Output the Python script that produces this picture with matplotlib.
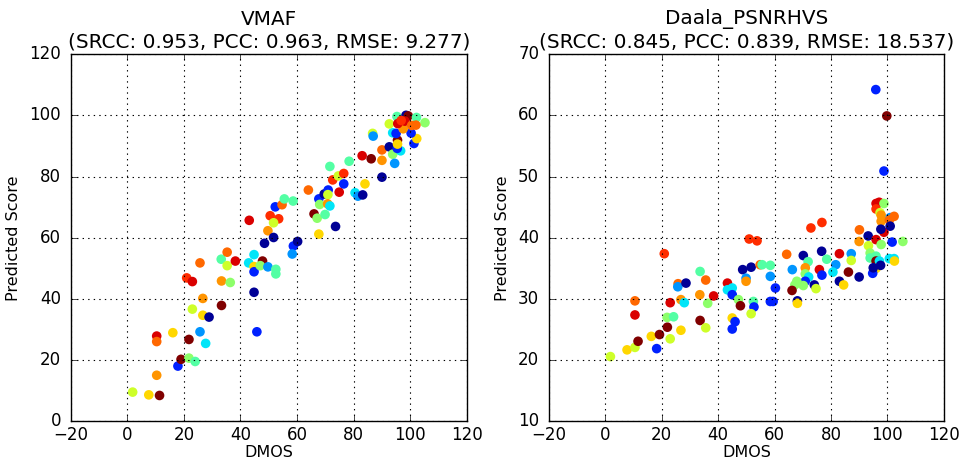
import matplotlib
matplotlib.use('Agg')
import matplotlib.pyplot as plt
import numpy as np

# colour groups (one per source content), mapped onto jet below
GROUP_C = {'db': 0.02, 'b': 0.16, 'lb': 0.27, 'cy': 0.35, 'ag': 0.45, 'lg': 0.52,
           'yg': 0.6, 'y': 0.68, 'o': 0.75, 'do': 0.8, 'ro': 0.86, 'r': 0.92, 'dr': 1.0}

vmaf_dmos = [1.9, 7.6, 11.4, 10.4, 10.4, 10.4, 16.1, 17.9, 19.0, 21.8, 24.0, 21.8, 25.7, 27.7,
             23.0, 26.7, 28.9, 26.7, 33.3, 21.0, 23.0, 25.7, 33.3, 36.4, 33.2, 35.3, 35.3, 38.2,
             44.8, 42.9, 44.8, 44.8, 47.8, 47.0, 49.7, 52.5, 52.5, 44.8, 45.8, 49.7, 51.7, 48.5,
             58.7, 58.3, 60.2, 67.7, 43.1, 50.5, 53.5, 51.7, 52.3, 54.7, 55.5, 58.6, 64.0, 67.7,
             69.6, 71.0, 70.9, 68.0, 70.8, 71.6, 66.0, 67.1, 69.9, 73.6, 72.6, 74.9, 71.6, 78.4,
             74.6, 76.5, 76.5, 80.5, 81.5, 83.2, 84.0, 83.0, 86.2, 90.0, 90.0, 90.0, 86.7, 86.9,
             92.6, 93.8, 94.5, 96.6, 95.4, 95.5, 95.5, 101.3, 102.3, 100.3, 93.8, 95.0, 92.6, 97.5,
             95.3, 98.5, 99.3, 102.2, 105.2, 95.6, 98.1, 96.8, 100.5, 102.0]
vmaf_pred = [9.6, 8.7, 8.5, 15.1, 27.9, 26.1, 29.0, 18.1, 20.3, 20.7, 19.6, 26.8, 29.3, 25.5,
             36.7, 34.7, 34.1, 40.2, 37.9, 46.9, 45.7, 51.8, 45.9, 45.4, 53.0, 55.3, 50.9, 52.4,
             54.5, 51.8, 50.6, 48.9, 52.4, 50.9, 50.5, 49.7, 48.2, 42.2, 29.3, 62.3, 60.1, 58.2,
             57.3, 54.7, 58.8, 61.2, 65.7, 67.2, 66.2, 64.9, 70.1, 70.8, 72.7, 72.0, 75.6, 72.7,
             74.3, 75.6, 74.1, 70.9, 71.1, 70.4, 67.8, 66.4, 67.6, 63.7, 78.9, 74.9, 83.3, 85.0,
             80.2, 81.0, 77.6, 74.7, 73.6, 74.0, 77.6, 86.8, 85.8, 88.7, 85.3, 79.8, 94.1, 93.2,
             89.7, 87.3, 84.3, 88.4, 89.2, 91.9, 90.6, 90.8, 92.4, 94.2, 94.3, 94.1, 97.2, 95.6,
             99.6, 100.0, 99.8, 99.3, 97.6, 97.3, 98.1, 98.3, 96.7, 96.8]
vmaf_group = ['yg', 'y', 'dr', 'o', 'r', 'do', 'y', 'b', 'dr', 'lg', 'ag', 'dr', 'lb', 'cy',
              'yg', 'y', 'db', 'o', 'dr', 'ro', 'r', 'do', 'o', 'lg', 'ag', 'do', 'yg', 'r',
              'cy', 'cy', 'y', 'b', 'dr', 'lg', 'lb', 'ag', 'ag', 'db', 'b', 'o', 'db', 'db',
              'b', 'lb', 'db', 'y', 'r', 'ro', 'ro', 'yg', 'b', 'do', 'ag', 'ag', 'do', 'b',
              'db', 'b', 'yg', 'lg', 'o', 'cy', 'dr', 'lg', 'ag', 'db', 'ro', 'r', 'ag', 'ag',
              'yg', 'ro', 'b', 'cy', 'lb', 'db', 'y', 'r', 'dr', 'do', 'o', 'db', 'yg', 'lb',
              'db', 'lg', 'lb', 'cy', 'b', 'dr', 'y', 'b', 'y', 'b', 'cy', 'b', 'yg', 'o',
              'ag', 'db', 'dr', 'ag', 'lg', 'r', 'r', 'ro', 'do', 'do']

hvs_dmos = [1.8, 7.7, 10.5, 11.6, 10.5, 10.5, 16.3, 18.2, 19.2, 22.0, 23.0, 21.9, 24.2, 26.8,
            23.0, 20.9, 25.8, 25.7, 28.6, 26.8, 28.0, 33.6, 35.6, 36.3, 33.5, 33.6, 35.6, 38.4,
            43.3, 43.3, 45.0, 45.0, 47.2, 47.9, 45.0, 46.0, 45.0, 48.7, 51.7, 49.9, 49.9, 51.0,
            53.8, 52.5, 52.7, 51.7, 54.9, 55.6, 58.5, 58.5, 60.3, 58.5, 59.5, 64.3, 70.2, 71.9,
            66.3, 70.9, 70.9, 72.1, 70.9, 67.9, 67.2, 70.2, 66.2, 68.1, 68.1, 74.1, 74.7, 76.7,
            76.8, 72.9, 78.5, 75.9, 76.8, 81.7, 80.7, 83.0, 83.0, 87.2, 87.2, 86.2, 84.5, 90.0,
            90.0, 90.1, 93.2, 93.3, 96.0, 98.8, 97.8, 101.7, 105.5, 93.9, 93.9, 96.0, 96.0, 97.2,
            96.0, 94.8, 100.7, 102.4, 102.5, 95.0, 97.6, 95.9, 99.8, 98.8, 96.0, 97.1, 98.8, 96.0,
            97.4, 97.8, 97.8, 101.0, 100.7, 102.4, 97.7, 101.0]
hvs_pred = [20.6, 21.7, 22.1, 23.1, 27.4, 29.7, 23.9, 21.9, 24.2, 25.4, 23.5, 27.0, 27.1, 24.9,
            29.4, 37.4, 32.5, 32.0, 32.6, 29.9, 29.4, 26.5, 25.3, 29.3, 30.7, 34.5, 33.1, 30.5,
            32.6, 31.5, 31.8, 30.7, 29.9, 28.9, 26.9, 26.3, 25.1, 34.8, 35.2, 33.4, 32.9, 39.8,
            39.5, 29.6, 28.7, 27.6, 35.6, 35.6, 35.5, 33.7, 31.8, 29.6, 29.6, 37.3, 37.1, 36.1,
            34.8, 35.1, 34.1, 33.6, 32.9, 32.9, 32.3, 32.2, 31.4, 29.7, 29.3, 32.3, 31.7, 37.8,
            42.5, 41.6, 36.5, 34.8, 33.9, 35.6, 34.4, 32.9, 37.4, 37.4, 36.3, 34.4, 32.3, 33.6,
            39.4, 41.3, 40.3, 38.7, 39.7, 40.9, 38.9, 39.3, 39.4, 37.5, 36.7, 37.0, 36.2, 36.2,
            35.0, 34.2, 36.6, 36.6, 36.2, 35.1, 35.5, 64.2, 59.9, 50.9, 45.6, 45.8, 45.6, 44.7,
            44.1, 43.7, 42.7, 43.3, 42.9, 43.5, 41.4, 41.9]
hvs_group = ['yg', 'y', 'yg', 'dr', 'r', 'do', 'y', 'b', 'dr', 'dr', 'yg', 'lg', 'ag', 'y',
             'r', 'ro', 'do', 'lb', 'db', 'o', 'cy', 'dr', 'yg', 'lg', 'o', 'ag', 'do', 'r',
             'r', 'cy', 'cy', 'b', 'lg', 'dr', 'y', 'b', 'b', 'db', 'db', 'lb', 'o', 'ro',
             'ro', 'ag', 'b', 'yg', 'do', 'ag', 'ag', 'lb', 'b', 'b', 'b', 'do', 'db', 'ag',
             'lb', 'o', 'lg', 'cy', 'b', 'lg', 'lg', 'lg', 'dr', 'db', 'y', 'db', 'yg', 'db',
             'ro', 'ro', 'ag', 'r', 'b', 'lb', 'cy', 'db', 'r', 'lb', 'yg', 'dr', 'y', 'db',
             'o', 'do', 'db', 'yg', 'r', 'r', 'lg', 'b', 'lg', 'lg', 'ag', 'ag', 'dr', 'cy',
             'y', 'b', 'cy', 'cy', 'y', 'db', 'db', 'b', 'dr', 'b', 'r', 'r', 'lg', 'ro',
             'yg', 'o', 'o', 'lb', 'do', 'do', 'db', 'db']

titles = ['VMAF\n(SRCC: 0.953, PCC: 0.963, RMSE: 9.277)',
          'Daala_PSNRHVS\n(SRCC: 0.845, PCC: 0.839, RMSE: 18.537)']


def draw(ax, dmos, pred, group, title, ylim):
    c = [GROUP_C[g] for g in group]
    ax.scatter(dmos, pred, c=c, cmap='jet', vmin=0, vmax=1, s=48, edgecolors='none')
    ax.set_xlim(-20, 120)
    ax.set_ylim(*ylim)
    ax.set_xlabel('DMOS', labelpad=1)
    ax.set_ylabel('Predicted Score', labelpad=6)
    ax.set_title(title, fontsize=14.4)
    ax.grid(True, color='k', linestyle=':', linewidth=0.8)


plt.style.use('classic')
plt.rcParams['font.family'] = 'DejaVu Sans'
plt.rcParams['xtick.major.pad'] = 3
plt.rcParams['ytick.major.pad'] = 7
plt.rcParams['axes.labelsize'] = 11.5
fig = plt.figure(figsize=(9.59, 4.61), dpi=100, facecolor='white')
ax1 = fig.add_axes([0.0737, 0.0857, 0.4131, 0.797])
ax2 = fig.add_axes([0.5724, 0.0857, 0.4117, 0.797])
draw(ax1, vmaf_dmos, vmaf_pred, vmaf_group, titles[0], (0, 120))
draw(ax2, hvs_dmos, hvs_pred, hvs_group, titles[1], (10, 70))
fig.savefig('out.png', dpi=100, facecolor='white')
